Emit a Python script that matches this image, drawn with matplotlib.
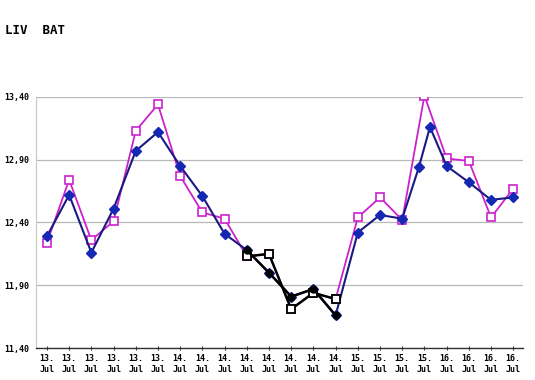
import numpy as np
import matplotlib.pyplot as plt
from matplotlib.ticker import FuncFormatter

# x 轴标签（每个刻度一个日期）
tick_labels = ["13.", "13.", "13.", "13.", "13.", "13.",
               "14.", "14.", "14.", "14.", "14.", "14.", "14.", "14.",
               "15.", "15.", "15.", "15.",
               "16.", "16.", "16.", "16."]

# 蓝色序列（实心点），在 17 附近多一个点
blue_x = [0, 1, 2, 3, 4, 5, 6, 7, 8, 9, 10, 11, 12, 13, 14, 15, 16,
          16.75, 17.25, 18, 19, 20, 21]
blue_y = [12.29, 12.62, 12.16, 12.51, 12.97, 13.12, 12.85, 12.61, 12.31,
          12.18, 12.00, 11.81, 11.87, 11.66, 12.32, 12.46, 12.43,
          12.84, 13.16, 12.85, 12.72, 12.58, 12.60]

# 品红序列（空心方块）
pink_x = list(range(22))
pink_y = [12.24, 12.74, 12.26, 12.41, 13.13, 13.34, 12.77, 12.48, 12.43,
          12.13, 12.15, 11.71, 11.84, 11.79, 12.44, 12.60, 12.42, 13.41,
          12.91, 12.89, 12.44, 12.67]

# 用黑色高亮的区段（按序号）
hl_start, hl_end = 9, 13

fig = plt.figure(figsize=(5.35, 3.8), dpi=100)
ax = fig.add_axes([0.067, 0.084, 0.911, 0.661])

mono = 'DejaVu Sans Mono'

ax.plot(pink_x, pink_y, color='#cc22cc', lw=1.3, marker='s', ms=6,
        mfc='white', mec='#cc22cc', mew=1.2, zorder=3)
ax.plot(blue_x, blue_y, color='#1a1a80', lw=1.5, marker='D', ms=5,
        mfc='#1428b4', mec='#1428b4', zorder=4)

# 黑色高亮段
ax.plot(pink_x[hl_start:hl_end + 1], pink_y[hl_start:hl_end + 1],
        color='black', lw=1.8, marker='s', ms=6, mfc='white', mec='black',
        mew=1.3, zorder=5)
bi = [i for i, x in enumerate(blue_x) if hl_start <= x <= hl_end]
ax.plot([blue_x[i] for i in bi], [blue_y[i] for i in bi],
        color='black', lw=1.8, marker='o', ms=5, mfc='black', mec='black',
        zorder=6)

ax.set_xlim(-0.5, 21.45)
ax.set_ylim(11.40, 13.40)
ax.set_yticks([11.40, 11.90, 12.40, 12.90, 13.40])
ax.yaxis.set_major_formatter(FuncFormatter(lambda v, p: f"{v:.2f}".replace('.', ',')))
ax.set_xticks(range(22))
ax.set_xticklabels([t + "\nJul" for t in tick_labels])

ax.grid(axis='y', color='#b8b8b8', lw=0.9)
ax.set_axisbelow(True)
for s in ['top', 'right']:
    ax.spines[s].set_visible(False)
ax.spines['left'].set_color('#c8c8c8')
ax.spines['left'].set_linewidth(0.8)
ax.spines['bottom'].set_color('#333333')
ax.spines['bottom'].set_linewidth(1.0)

ax.tick_params(axis='y', length=0, pad=5)
ax.tick_params(axis='x', direction='inout', length=3, color='#333333', pad=3)
for lab in ax.get_yticklabels() + ax.get_xticklabels():
    lab.set_fontfamily(mono)
    lab.set_fontweight('bold')
    lab.set_fontsize(6)
for lab in ax.get_xticklabels():
    lab.set_linespacing(1.3)

fig.text(0.009, 0.91, "LIV  BAT", fontfamily=mono, fontweight='bold',
         fontsize=9)

fig.savefig("out.png", dpi=100)
